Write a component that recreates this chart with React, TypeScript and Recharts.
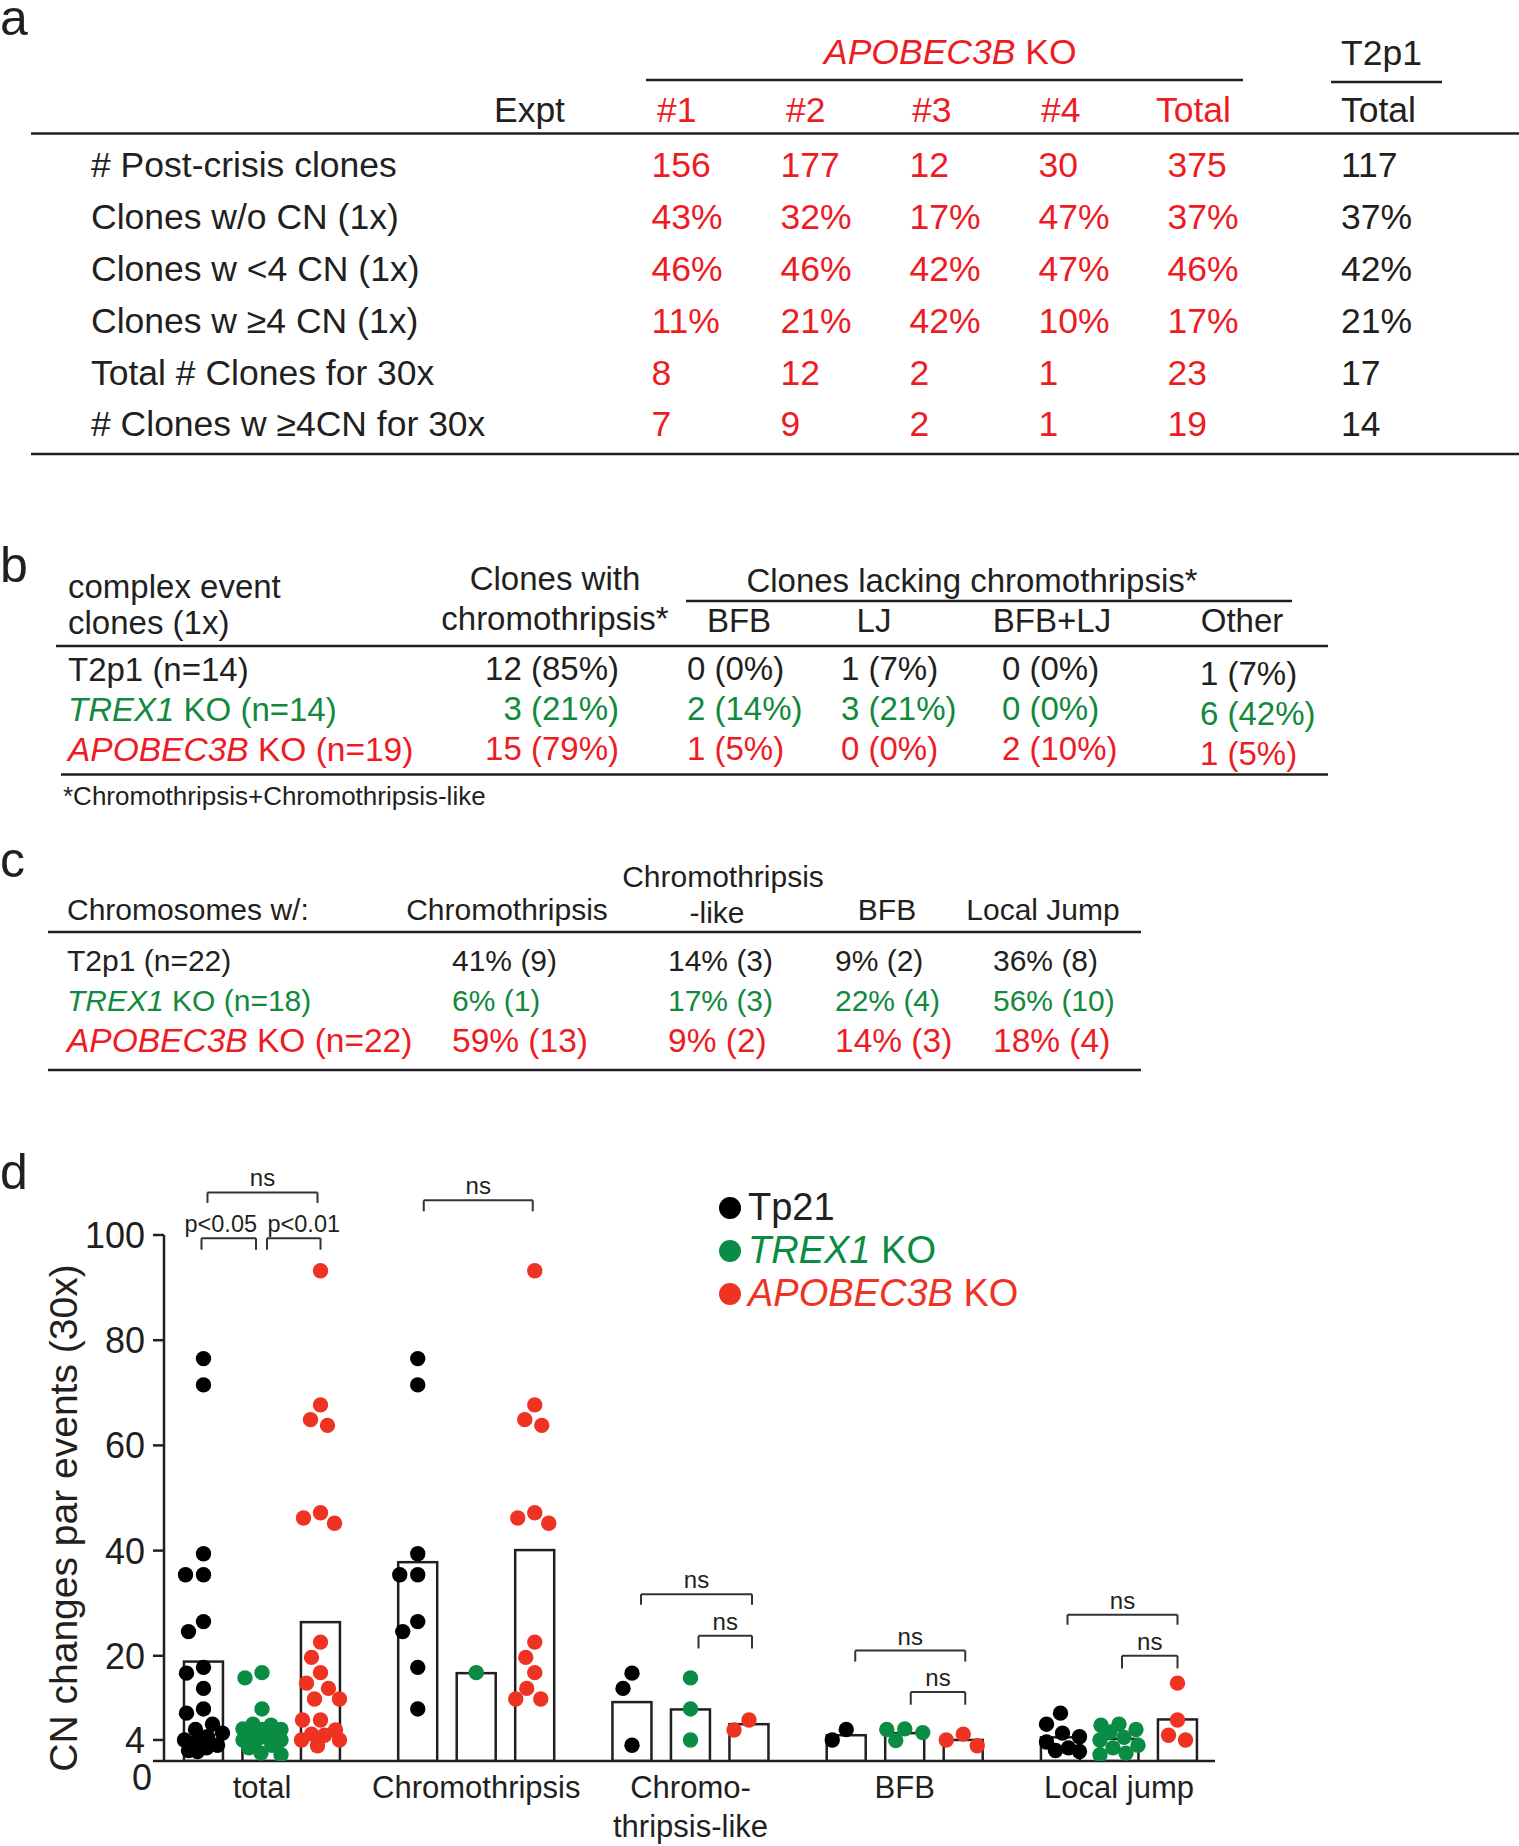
import React from "react";
import {
  Bar,
  ComposedChart,
  ReferenceDot,
  ReferenceLine,
  Scatter,
  XAxis,
  YAxis,
} from "recharts";

const FONT = '"Liberation Sans", Arial, Helvetica, sans-serif';
const INK = "#231f20";
const RED = "#ed1c24";
const GREEN = "#12893c";
const DOT_COLORS = ["#000000", "#0a8c44", "#ef3323"];

// ---------- panel a ----------
const exptHeaders = ["#1", "#2", "#3", "#4", "Total"];
const cloneRowLabels = [
  "# Post-crisis clones",
  "Clones w/o CN (1x)",
  "Clones w <4 CN (1x)",
  "Clones w \u22654 CN (1x)",
  "Total # Clones for 30x",
  "# Clones w \u22654CN for 30x",
];
// #1, #2, #3, #4, APOBEC3B total, T2p1 total
const postCrisis = ["156", "177", "12", "30", "375", "117"];
const withoutCN = ["43%", "32%", "17%", "47%", "37%", "37%"];
const under4CN = ["46%", "46%", "42%", "47%", "46%", "42%"];
const atLeast4CN = ["11%", "21%", "42%", "10%", "17%", "21%"];
const clones30x = ["8", "12", "2", "1", "23", "17"];
const clones4CN30x = ["7", "9", "2", "1", "19", "14"];
const panelARows = [postCrisis, withoutCN, under4CN, atLeast4CN, clones30x, clones4CN30x];

// ---------- panel b ----------
const strainGenes = ["T2p1", "TREX1", "APOBEC3B"];
const strainInk = [INK, GREEN, RED];
const bCounts = [14, 14, 19];
const bLackingHeaders = ["BFB", "LJ", "BFB+LJ", "Other"];
const bWithChromo = ["12 (85%)", "3 (21%)", "15 (79%)"];
const bBFB = ["0 (0%)", "2 (14%)", "1 (5%)"];
const bLJ = ["1 (7%)", "3 (21%)", "0 (0%)"];
const bBFBLJ = ["0 (0%)", "0 (0%)", "2 (10%)"];
const bOther = ["1 (7%)", "6 (42%)", "1 (5%)"];

// ---------- panel c ----------
const cCounts = [22, 18, 22];
const cChromo = ["41% (9)", "6% (1)", "59% (13)"];
const cLike = ["14% (3)", "17% (3)", "9% (2)"];
const cBFB = ["9% (2)", "22% (4)", "14% (3)"];
const cLJ = ["36% (8)", "56% (10)", "18% (4)"];

// ---------- panel d ----------
const categoryTickLines = [["total"], ["Chromothripsis"], ["Chromo-", "thripsis-like"], ["BFB"], ["Local jump"]];
const legendNames = ["Tp21", "TREX1", "APOBEC3B"];
const yTicks = [0, 4, 20, 40, 60, 80, 100];

const tp21Total = [76.5, 71.5, 39.4, 35.4, 35.4, 26.5, 24.6, 17.8, 9.9, 16.7, 13.8, 3.0, 4.0, 6.0, 9.1, 7.0, 5.3, 4.6, 3.6, 2.5, 2.0, 1.8];
const tp21Chromo = [76.5, 71.5, 39.4, 35.4, 35.4, 26.5, 24.6, 17.8, 9.9];
const tp21Like = [16.7, 13.8, 3.0];
const tp21BFB = [4.0, 6.0];
const tp21LJ = [9.1, 7.0, 5.3, 4.6, 3.6, 2.5, 2.0, 1.8];

const trexTotal = [16.8, 15.8, 9.9, 4.0, 6.0, 6.1, 5.4, 3.9, 7.0, 6.8, 6.0, 5.5, 4.5, 4.0, 3.0, 2.5, 1.5, 1.2];
const trexChromo = [16.8];
const trexLike = [15.8, 9.9, 4.0];
const trexBFB = [6.0, 6.1, 5.4, 3.9];
const trexLJ = [7.0, 6.8, 6.0, 5.5, 4.5, 4.0, 3.0, 2.5, 1.5, 1.2];

const a3bTotal = [93.2, 67.7, 64.9, 63.8, 47.2, 46.2, 45.2, 22.6, 19.7, 16.8, 13.8, 11.8, 11.8, 5.9, 7.8, 5.1, 2.9, 4.0, 14.8, 7.8, 4.9, 4.0];
const a3bChromo = [93.2, 67.7, 64.9, 63.8, 47.2, 46.2, 45.2, 22.6, 19.7, 16.8, 13.8, 11.8, 11.8];
const a3bLike = [5.9, 7.8];
const a3bBFB = [5.1, 2.9, 4.0];
const a3bLJ = [14.8, 7.8, 4.9, 4.0];

// bar heights (means)
const tp21Means = [18.9, 37.8, 11.2, 4.9, 4.5];
const trexMeans = [6.2, 16.7, 9.8, 5.3, 4.2];
const a3bMeans = [26.4, 40.1, 7.0, 4.0, 7.9];

const strainValues = [
  [tp21Total, tp21Chromo, tp21Like, tp21BFB, tp21LJ],
  [trexTotal, trexChromo, trexLike, trexBFB, trexLJ],
  [a3bTotal, a3bChromo, a3bLike, a3bBFB, a3bLJ],
];
const strainMeans = [tp21Means, trexMeans, a3bMeans];

// significance brackets: category, from/to strain, y of bar and legs
const brackets = [
  { g: 0, from: 0, to: 2, top: 108.1, leg: 106.1, text: "ns", dl: 4, dr: -3, tx: 0 },
  { g: 0, from: 0, to: 1, top: 99.4, leg: 97.2, text: "p<0.05", dl: -2, dr: -6, tx: -8 },
  { g: 0, from: 1, to: 2, top: 99.4, leg: 97.2, text: "p<0.01", dl: 5, dr: 0, tx: 10 },
  { g: 1, from: 0, to: 2, top: 106.6, leg: 104.5, text: "ns", dl: 6, dr: -2, tx: 0 },
  { g: 2, from: 0, to: 2, top: 31.7, leg: 29.7, text: "ns", dl: 9, dr: 3, tx: 0 },
  { g: 2, from: 1, to: 2, top: 23.8, leg: 21.4, text: "ns", dl: 8, dr: 3, tx: 0 },
  { g: 3, from: 0, to: 2, top: 21.0, leg: 18.9, text: "ns", dl: 9, dr: 2, tx: 0 },
  { g: 3, from: 1, to: 2, top: 13.1, leg: 10.7, text: "ns", dl: 6, dr: 2, tx: 0 },
  { g: 4, from: 0, to: 2, top: 27.8, leg: 25.9, text: "ns", dl: 7, dr: 0, tx: 0 },
  { g: 4, from: 1, to: 2, top: 20.0, leg: 17.6, text: "ns", dl: 3, dr: 0, tx: 0 },
];

// layout of panel d (px)
const CHART_TOP = 1150;
const CHART_W = 1240;
const CHART_H = 696;
const Y_AXIS_W = 164;
const PLOT_W = 1051;
const PLOT_H = 526;
const FIRST_GROUP = 98;
const GROUP_STEP = 214.25;
const SUB_STEP = 58.5;
const BAR_W = 39;
const DOT_R = 7.7;
const DOT_GAP = 17.5;
const MAX_SHIFT = 19;

const groupCenters = categoryTickLines.map((_, g) => FIRST_GROUP + g * GROUP_STEP);
const groupX = (g: number, s: number) => groupCenters[g] + (s - 1) * SUB_STEP;

// simple beeswarm: nearest free horizontal offset for each dot
function swarm(values: number[], cx: number) {
  const pxPerUnit = PLOT_H / 100;
  const placed: { ox: number; py: number }[] = [];
  const out: { x: number; y: number }[] = [];
  [...values].sort((a, b) => b - a).forEach((v) => {
    const py = v * pxPerUnit;
    let best = 0;
    let bestGap = -Infinity;
    for (let k = 0; k <= MAX_SHIFT * 2; k++) {
      const off = k % 2 === 0 ? k / 2 : -(k + 1) / 2;
      const gap = placed.reduce((m, p) => Math.min(m, Math.hypot(p.ox - off, p.py - py)), Infinity);
      if (gap >= DOT_GAP) {
        best = off;
        break;
      }
      if (gap > bestGap) {
        bestGap = gap;
        best = off;
      }
    }
    placed.push({ ox: best, py });
    out.push({ x: cx + best, y: v });
  });
  return out;
}

const barRows = categoryTickLines.flatMap((_, g) =>
  strainMeans.map((means, s) => ({ x: groupX(g, s), y: means[g] }))
);
const dotSeries = strainValues.map((lists, s) => lists.flatMap((vals, g) => swarm(vals, groupX(g, s))));

function ValueTick(props: any) {
  const { x, y, payload } = props;
  const zero = payload.value === 0;
  return (
    <g>
      <line x1={x - 11} x2={x} y1={y} y2={y} stroke={INK} strokeWidth={2.5} />
      <text
        x={zero ? x - 12 : x - 19}
        y={zero ? y + 29 : y + 13}
        textAnchor="end"
        fontSize={36}
        fontFamily={FONT}
        fill={INK}
      >
        {payload.value}
      </text>
    </g>
  );
}

function CategoryTick(props: any) {
  const { x, y, payload } = props;
  const i = groupCenters.findIndex((c) => Math.abs(c - payload.value) < 1);
  const lines = categoryTickLines[i] || [];
  return (
    <text x={x} y={y} textAnchor="middle" fontSize={31} fontFamily={FONT} fill={INK}>
      {lines.map((l, k) => (
        <tspan key={k} x={x} dy={k === 0 ? 37 : 38.7}>
          {l}
        </tspan>
      ))}
    </text>
  );
}

// mean bar: outline only, centred on the bar's category position
function MeanBar(props: any) {
  const { x, y, width, height } = props;
  if (!Number.isFinite(y) || !Number.isFinite(height)) return null;
  const cx = x + (width || 0) / 2;
  return (
    <rect x={cx - BAR_W / 2} y={y} width={BAR_W} height={height} fill="none" stroke={INK} strokeWidth={2.5} />
  );
}

const YTitle = () => (
  <text
    transform="translate(63, 368) rotate(-90)"
    textAnchor="middle"
    dominantBaseline="central"
    fontSize={39}
    fontFamily={FONT}
    fill={INK}
  >
    CN changes par events (30x)
  </text>
);

function Strain({ x, y, idx, n, size }: { x: number; y: number; idx: number; n: number; size: number }) {
  return (
    <text x={x} y={y} fontSize={size} fill={strainInk[idx]}>
      {idx === 0 ? (
        `T2p1 (n=${n})`
      ) : (
        <>
          <tspan fontStyle="italic">{strainGenes[idx]}</tspan>
          {` KO (n=${n})`}
        </>
      )}
    </text>
  );
}

const Rule = ({ x1, x2, y }: { x1: number; x2: number; y: number }) => (
  <line x1={x1} x2={x2} y1={y} y2={y} stroke={INK} strokeWidth={2.5} />
);

function Tables() {
  const aRowY = [176.5, 229, 281, 333, 384.5, 436];
  const aColX = [651.5, 780.5, 909.6, 1038.6, 1167.6, 1341];
  const aHeadX = [657, 786, 912, 1041, 1156];
  const bRowY = [680, 720, 760];
  const cRowY = [971, 1011, 1052];
  const cRowSize = [30, 30, 33.5];
  return (
    <svg width={1519} height={1846} style={{ position: "absolute", left: 0, top: 0 }} fontFamily={FONT}>
      {/* panel letters */}
      {[["a", 35], ["b", 582], ["c", 877], ["d", 1189]].map(([t, y]) => (
        <text key={t as string} x={0} y={y as number} fontSize={50} fill={INK}>
          {t}
        </text>
      ))}

      {/* ---- a ---- */}
      <g fontSize={35.5}>
        <text x={824} y={64} fill={RED}>
          <tspan fontStyle="italic">APOBEC3B</tspan> KO
        </text>
        <Rule x1={646} x2={1243} y={80} />
        <text x={1341} y={65} fill={INK}>T2p1</text>
        <Rule x1={1331} x2={1442} y={82} />
        <text x={565} y={122} textAnchor="end" fill={INK}>Expt</text>
        {exptHeaders.map((h, i) => (
          <text key={h} x={aHeadX[i]} y={122} fill={RED}>{h}</text>
        ))}
        <text x={1341} y={122} fill={INK}>Total</text>
        <Rule x1={31} x2={1519} y={133.5} />
        {cloneRowLabels.map((l, r) => (
          <g key={l}>
            <text x={91} y={aRowY[r]} fill={INK}>{l}</text>
            {panelARows[r].map((v, c) => (
              <text key={c} x={aColX[c]} y={aRowY[r]} fill={c === 5 ? INK : RED}>{v}</text>
            ))}
          </g>
        ))}
        <Rule x1={31} x2={1519} y={454} />
      </g>

      {/* ---- b ---- */}
      <g fontSize={33}>
        <text x={68} y={598} fill={INK}>complex event</text>
        <text x={68} y={634} fill={INK}>clones (1x)</text>
        <text x={555} y={590} textAnchor="middle" fill={INK}>Clones with</text>
        <text x={555} y={630} textAnchor="middle" fill={INK}>chromothripsis*</text>
        <text x={972} y={592} textAnchor="middle" fill={INK}>Clones lacking chromothripsis*</text>
        <Rule x1={686} x2={1292} y={601} />
        {bLackingHeaders.map((h, i) => (
          <text key={h} x={[739, 874, 1052, 1242][i]} y={632} textAnchor="middle" fill={INK}>{h}</text>
        ))}
        <Rule x1={56} x2={1328} y={646} />
        {strainGenes.map((_, r) => (
          <g key={r} fill={strainInk[r]}>
            <Strain x={68} y={bRowY[r] + 1} idx={r} n={bCounts[r]} size={r === 2 ? 33.5 : 33} />
            <text x={619} y={bRowY[r]} textAnchor="end">{bWithChromo[r]}</text>
            <text x={687} y={bRowY[r]}>{bBFB[r]}</text>
            <text x={841} y={bRowY[r]}>{bLJ[r]}</text>
            <text x={1002} y={bRowY[r]}>{bBFBLJ[r]}</text>
            <text x={1200} y={bRowY[r] + 5}>{bOther[r]}</text>
          </g>
        ))}
        <Rule x1={61} x2={1328} y={774.5} />
        <text x={63} y={805} fontSize={26} fill={INK}>*Chromothripsis+Chromothripsis-like</text>
      </g>

      {/* ---- c ---- */}
      <g fontSize={30}>
        <text x={723} y={887} textAnchor="middle" fill={INK}>Chromothripsis</text>
        <text x={67} y={920} fill={INK}>Chromosomes w/:</text>
        <text x={507} y={920} textAnchor="middle" fill={INK}>Chromothripsis</text>
        <text x={717} y={923} textAnchor="middle" fill={INK}>-like</text>
        <text x={887} y={920} textAnchor="middle" fill={INK}>BFB</text>
        <text x={1043} y={920} textAnchor="middle" fill={INK}>Local Jump</text>
        <Rule x1={48} x2={1141} y={932} />
        {strainGenes.map((_, r) => (
          <g key={r} fill={strainInk[r]} fontSize={cRowSize[r]}>
            <Strain x={67} y={cRowY[r]} idx={r} n={cCounts[r]} size={cRowSize[r]} />
            <text x={452} y={cRowY[r]}>{cChromo[r]}</text>
            <text x={668} y={cRowY[r]}>{cLike[r]}</text>
            <text x={835} y={cRowY[r]}>{cBFB[r]}</text>
            <text x={993} y={cRowY[r]}>{cLJ[r]}</text>
          </g>
        ))}
        <Rule x1={48} x2={1141} y={1070} />
      </g>
    </svg>
  );
}

function DotLegend() {
  return (
    <div style={{ position: "absolute", left: 719, top: 1186, fontFamily: FONT, fontSize: 38 }}>
      {legendNames.map((name, i) => (
        <div key={name} style={{ display: "flex", alignItems: "center", height: 43, color: i === 0 ? INK : DOT_COLORS[i] }}>
          <span
            style={{ width: 22, height: 22, borderRadius: 11, background: DOT_COLORS[i], marginRight: 7, flex: "none" }}
          />
          {i === 0 ? (
            <span>{name}</span>
          ) : (
            <span>
              <i>{name}</i> KO
            </span>
          )}
        </div>
      ))}
    </div>
  );
}

export default function App() {
  return (
    <div
      style={{
        position: "absolute",
        left: 0,
        top: 0,
        width: 1519,
        height: 1846,
        background: "#fff",
        fontFamily: FONT,
        overflow: "hidden",
      }}
    >
      <Tables />
      <div style={{ position: "absolute", left: 0, top: CHART_TOP }}>
        <ComposedChart
          width={CHART_W}
          height={CHART_H}
          data={barRows}
          margin={{ top: 85, right: CHART_W - Y_AXIS_W - PLOT_W, bottom: 25, left: 0 }}
        >
          <XAxis
            type="number"
            dataKey="x"
            domain={[0, PLOT_W]}
            ticks={groupCenters}
            interval={0}
            allowDataOverflow
            height={60}
            tick={(p: any) => <CategoryTick {...p} />}
            tickLine={false}
            tickSize={0}
            tickMargin={0}
            axisLine={{ stroke: INK, strokeWidth: 2.5 }}
          />
          <YAxis
            type="number"
            domain={[0, 100]}
            ticks={yTicks}
            interval={0}
            allowDataOverflow
            width={Y_AXIS_W}
            tick={(p: any) => <ValueTick {...p} />}
            tickLine={false}
            tickSize={0}
            tickMargin={0}
            axisLine={{ stroke: INK, strokeWidth: 2.5 }}
            label={<YTitle />}
          />
          {dotSeries.map((pts, s) => (
            <Scatter
              key={s}
              data={pts}
              dataKey="y"
              isAnimationActive={false}
              shape={(p: any) => <circle cx={p.cx} cy={p.cy} r={DOT_R} fill={DOT_COLORS[s]} />}
            />
          ))}
          <Bar dataKey="y" barSize={BAR_W} shape={(p: any) => <MeanBar {...p} />} isAnimationActive={false} />
          {brackets.map((b, i) => {
            const x1 = groupX(b.g, b.from) + b.dl;
            const x2 = groupX(b.g, b.to) + b.dr;
            return (
              <React.Fragment key={i}>
                <ReferenceLine segment={[{ x: x1, y: b.leg }, { x: x1, y: b.top }]} stroke="#333" strokeWidth={2} ifOverflow="visible" />
                <ReferenceLine segment={[{ x: x1, y: b.top }, { x: x2, y: b.top }]} stroke="#333" strokeWidth={2} ifOverflow="visible" />
                <ReferenceLine segment={[{ x: x2, y: b.top }, { x: x2, y: b.leg }]} stroke="#333" strokeWidth={2} ifOverflow="visible" />
                <ReferenceDot
                  x={(x1 + x2) / 2}
                  y={b.top}
                  r={0}
                  ifOverflow="visible"
                  shape={(p: any) => (
                    <text x={p.cx + b.tx} y={p.cy - 6} textAnchor="middle" fontSize={b.text === "ns" ? 24 : 23.5} fontFamily={FONT} fill={INK}>
                      {b.text}
                    </text>
                  )}
                />
              </React.Fragment>
            );
          })}
        </ComposedChart>
      </div>
      <DotLegend />
    </div>
  );
}
